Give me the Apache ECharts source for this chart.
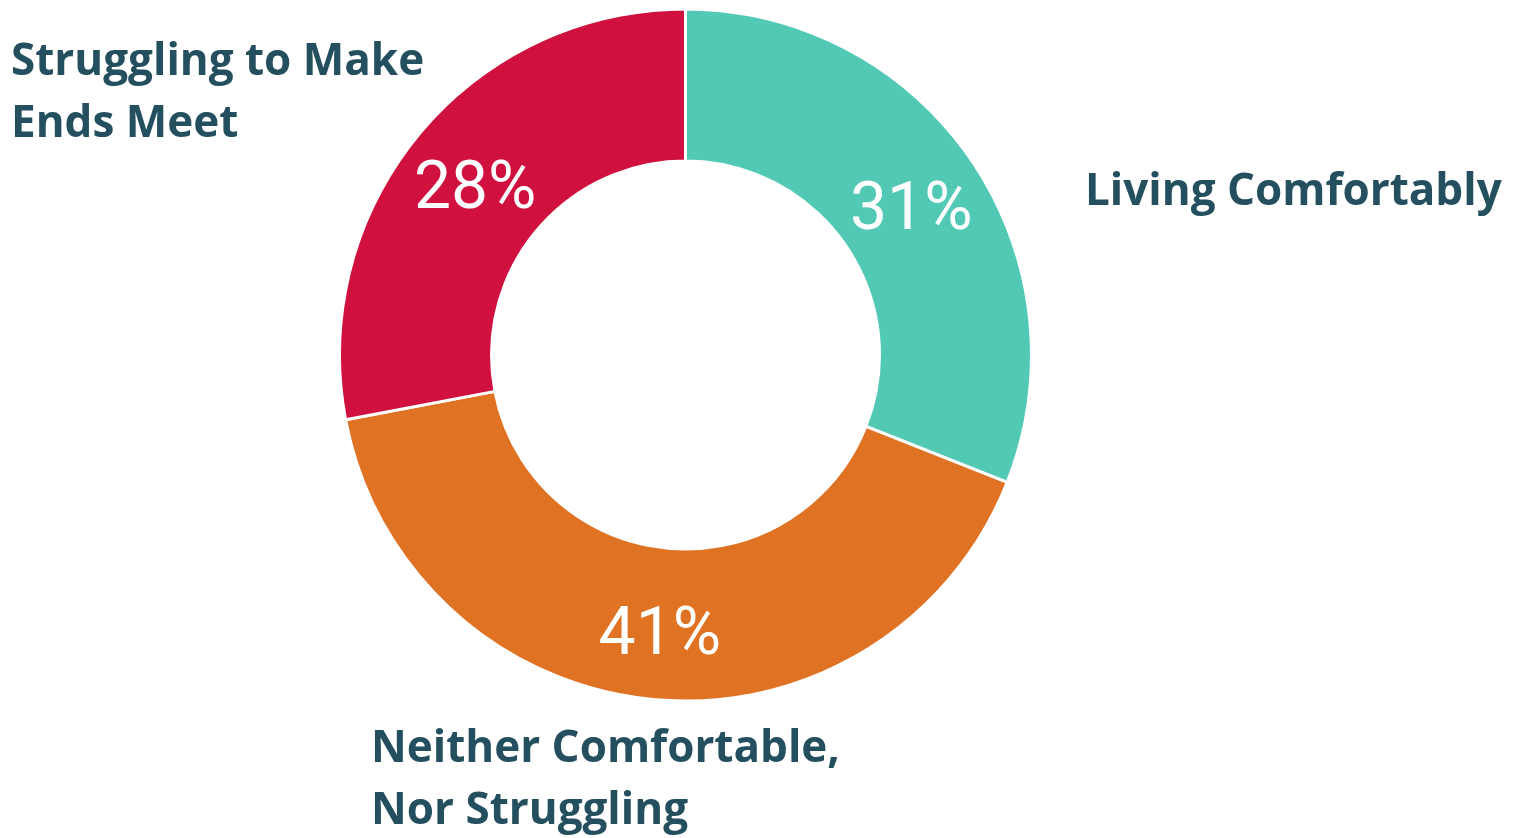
<!DOCTYPE html>
<html>
<head>
<meta charset="utf-8">
<script src="https://cdn.jsdelivr.net/npm/echarts@6/dist/echarts.min.js"></script>
<style>
html,body{margin:0;padding:0;background:#fff;}
#chart{width:1517px;height:838px;}
</style>
</head>
<body>
<div id="chart"></div>
<script>
const categories = ["Living Comfortably", "Neither Comfortable,\nNor Struggling", "Struggling to Make\nEnds Meet"];
const values = [31, 41, 28];
const colors = ["#52C9B5", "#E07224", "#D0103E"];

const chart = echarts.init(document.getElementById('chart'), null, {renderer: 'canvas'});

const sliceData = categories.map((c, i) => ({name: c, value: values[i], itemStyle: {color: colors[i]}}));
const labelData = categories.map((c, i) => ({name: c, value: values[i], itemStyle: {color: 'rgba(0,0,0,0)', borderWidth: 0}}));

const outerLabelPos = [
  {x: 1085, y: 192},
  {x: 371, y: 780},
  {x: 11, y: 93}
];

chart.setOption({
  animation: false,
  backgroundColor: '#ffffff',
  series: [
    {
      type: 'pie',
      center: [685.5, 355],
      radius: [194, 346],
      startAngle: 90,
      clockwise: true,
      avoidLabelOverlap: false,
      silent: true,
      itemStyle: {borderColor: '#ffffff', borderWidth: 3},
      label: {
        show: true,
        position: 'inside',
        formatter: '{c}%',
        color: '#ffffff',
        fontFamily: 'Roboto, "Open Sans", sans-serif',
        fontSize: 66,
        fontWeight: 'normal'
      },
      labelLayout: {dy: 11},
      labelLine: {show: false},
      emphasis: {disabled: true},
      data: sliceData
    },
    {
      type: 'pie',
      center: [685.5, 355],
      radius: [194, 346],
      startAngle: 90,
      clockwise: true,
      avoidLabelOverlap: false,
      silent: true,
      z: 3,
      label: {
        show: true,
        position: 'outside',
        formatter: '{b}',
        color: '#234F5E',
        fontFamily: '"Open Sans", sans-serif',
        fontSize: 44,
        fontWeight: 'bold',
        lineHeight: 62,
        align: 'left'
      },
      labelLine: {show: false},
      labelLayout: function (params) {
        const p = outerLabelPos[params.dataIndex];
        return {x: p.x, y: p.y, align: 'left', verticalAlign: 'middle', hideOverlap: false};
      },
      emphasis: {disabled: true},
      data: labelData
    }
  ]
});
</script>
</body>
</html>
